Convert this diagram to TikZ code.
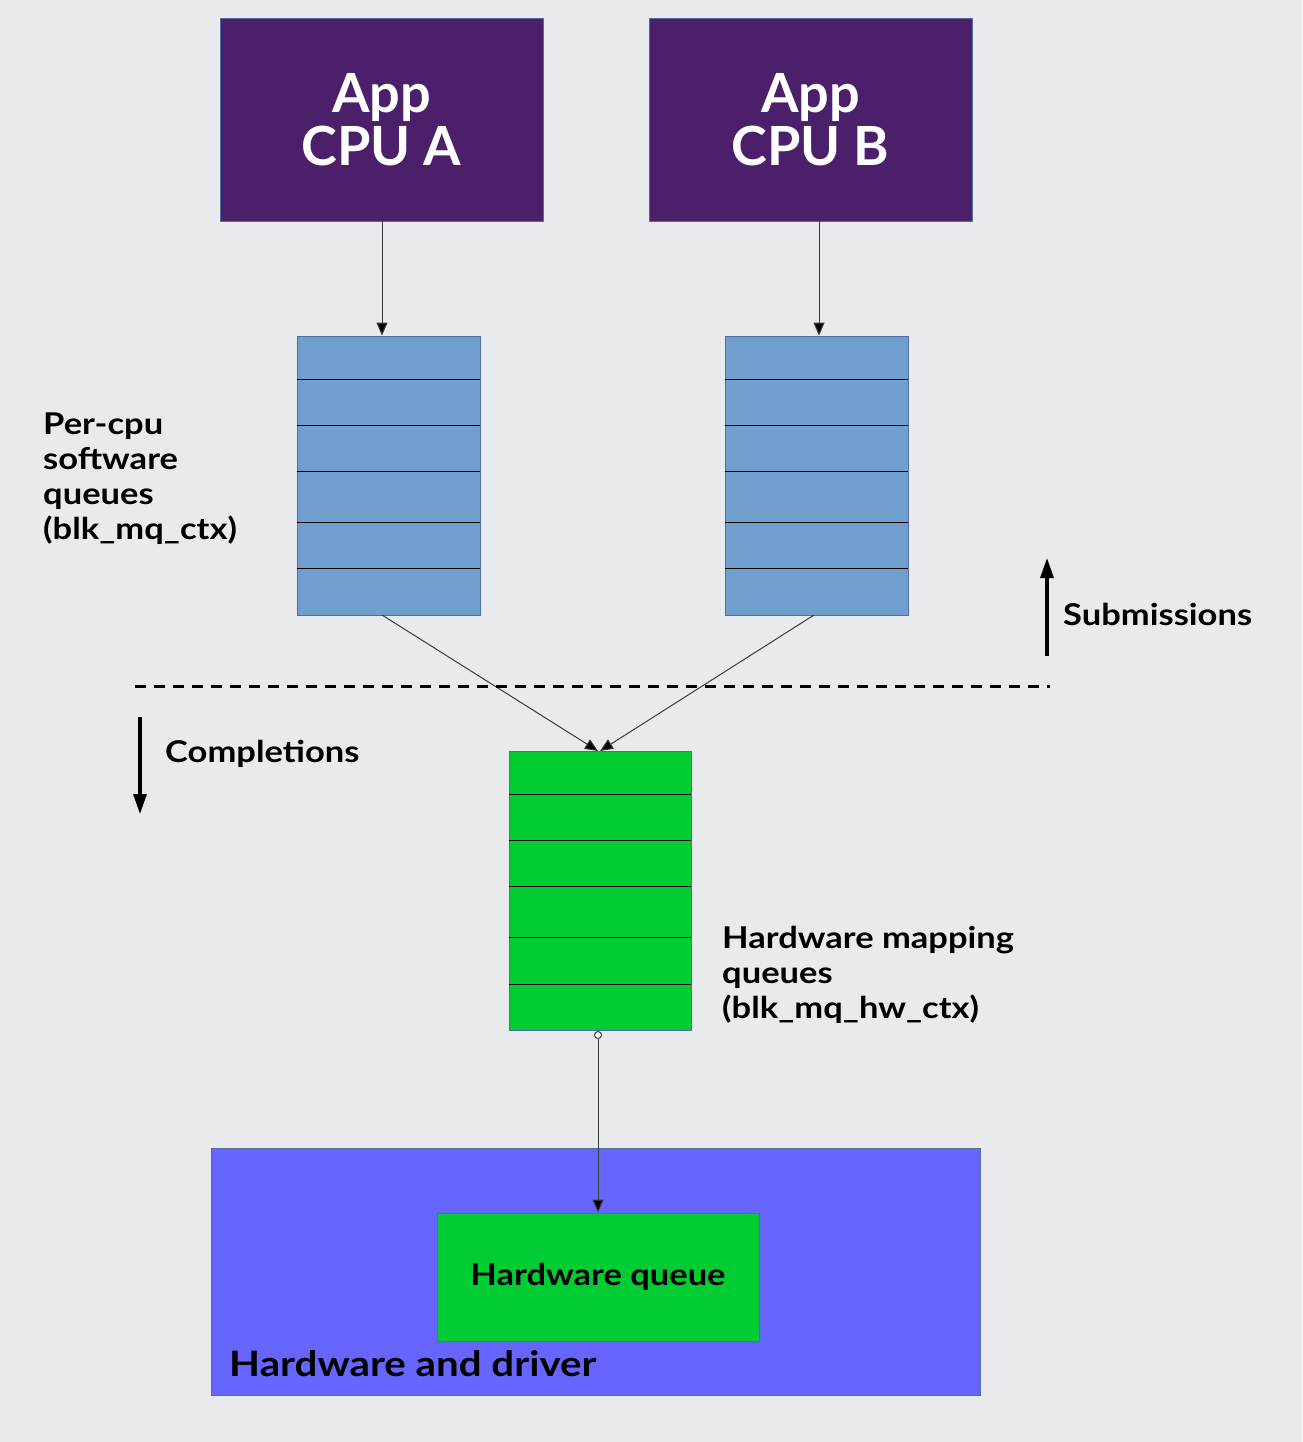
\documentclass[tikz,border=0pt]{standalone}
\usepackage{fontspec}
\setmainfont{Lato}
\newfontfamily\labfont[FakeStretch=1.15]{Lato}
\usetikzlibrary{arrows.meta}
\definecolor{bgc}{RGB}{232,234,238}
\definecolor{cpuc}{RGB}{75,31,106}
\definecolor{swq}{RGB}{111,159,207}
\definecolor{hwq}{RGB}{0,204,51}
\definecolor{drvc}{RGB}{102,102,255}
\definecolor{edgec}{RGB}{80,110,160}
\tikzset{
  cpubox/.style={draw=edgec,line width=0.8pt,fill=cpuc,minimum width=323pt,minimum height=203pt,inner sep=0pt,
     text=white,font=\fontsize{54}{57}\selectfont\bfseries,align=center},
  swbox/.style={draw=edgec,line width=0.8pt,fill=swq,minimum width=183pt,minimum height=279pt,inner sep=0pt},
  hwbox/.style={draw=edgec,line width=0.8pt,fill=hwq,minimum width=182pt,minimum height=279pt,inner sep=0pt},
  rowline/.style={black,line width=0.9pt},
  conn/.style={line width=1pt,draw={rgb,255:red,60;green,60;blue,60},-{Triangle[length=13pt,width=11pt,fill=black]}},
  label/.style={font=\labfont\fontsize{30}{35}\selectfont\bfseries,align=left,inner sep=0pt,text=black},
  dirarrow/.style={line width=3.2pt,-{Triangle[length=20pt,width=13pt]}},
}
\begin{document}
\begin{tikzpicture}[x=1pt,y=-1pt]
\fill[bgc] (0,0) rectangle (1302,1442);
\useasboundingbox (0,0) rectangle (1302,1442);

% CPU boxes
\node[cpubox] (cpua) at (381.5,119.5) {App\\[-4pt]CPU A};
\node[cpubox] (cpub) at (810.5,119.5) {App\\[-4pt]CPU B};

% software queues
\node[swbox] (qa) at (388.5,475.5) {};
\node[swbox] (qb) at (816.5,475.5) {};
\foreach \q in {qa,qb}{
  \foreach \yy in {379,425,471,522,568}{
    \draw[rowline] (\q.west |- 0,\yy) -- (\q.east |- 0,\yy);
  }
}

% hardware mapping queue
\node[hwbox] (hq) at (600,890.5) {};
\foreach \yy in {794,840,886,937,984}{
  \draw[rowline] (hq.west |- 0,\yy) -- (hq.east |- 0,\yy);
}

% driver box and hardware queue
\node[draw=edgec,line width=0.8pt,fill=drvc,minimum width=769pt,minimum height=247pt,inner sep=0pt] (drv) at (595.5,1271.5) {};
\node[draw=edgec,line width=0.8pt,fill=hwq,minimum width=322pt,minimum height=128pt,inner sep=0pt,
      font=\labfont\fontsize{30}{34}\selectfont\bfseries] (hwqueue) at (598,1277) {Hardware queue};
\node[anchor=west,inner sep=0pt,font=\labfont\fontsize{35}{40}\selectfont\bfseries] (drvlabel) at (229,1364) {Hardware and driver};

% connectors
\coordinate (cpuaout) at (382,221);
\coordinate (cpubout) at (819,221);
\draw[conn] (cpuaout) -- (cpuaout |- qa.north);
\draw[conn] (cpubout) -- (cpubout |- qb.north);
\coordinate (qaout) at (382,615);
\coordinate (qbout) at (814,615);
\coordinate (hqinA) at (598,751);
\coordinate (hqinB) at (600,751);
\draw[conn] (qaout) -- (hqinA);
\draw[conn] (qbout) -- (hqinB);
\coordinate (hqout) at (598,1031);
\draw[conn,{Circle[open,length=8pt,fill=white]}-{Triangle[length=13pt,width=11pt,fill=black]}] (hqout) -- (hqout |- hwqueue.north);

% dashed separator
\coordinate (dashL) at (135,686);
\coordinate (dashR) at (1050,686);
\draw[line width=3pt,dash pattern=on 11pt off 8pt] (dashL) -- (dashR);

% direction arrows
\coordinate (subA) at (1047,656);
\coordinate (subB) at (1047,558);
\draw[dirarrow] (subA) -- (subB);
\node[label,anchor=west] (sub) at (1063,614) {Submissions};
\coordinate (comA) at (140,717);
\coordinate (comB) at (140,814);
\draw[dirarrow] (comA) -- (comB);
\node[label,anchor=west] (com) at (165,754) {Completions};

% labels
\node[label,anchor=north west] (swlabel) at (43,413) {Per-cpu\\software\\queues\\(blk\_mq\_ctx)};
\node[label,anchor=north west] (hwlabel) at (722,926) {Hardware mapping\\queues\\(blk\_mq\_hw\_ctx)};
\end{tikzpicture}
\end{document}
